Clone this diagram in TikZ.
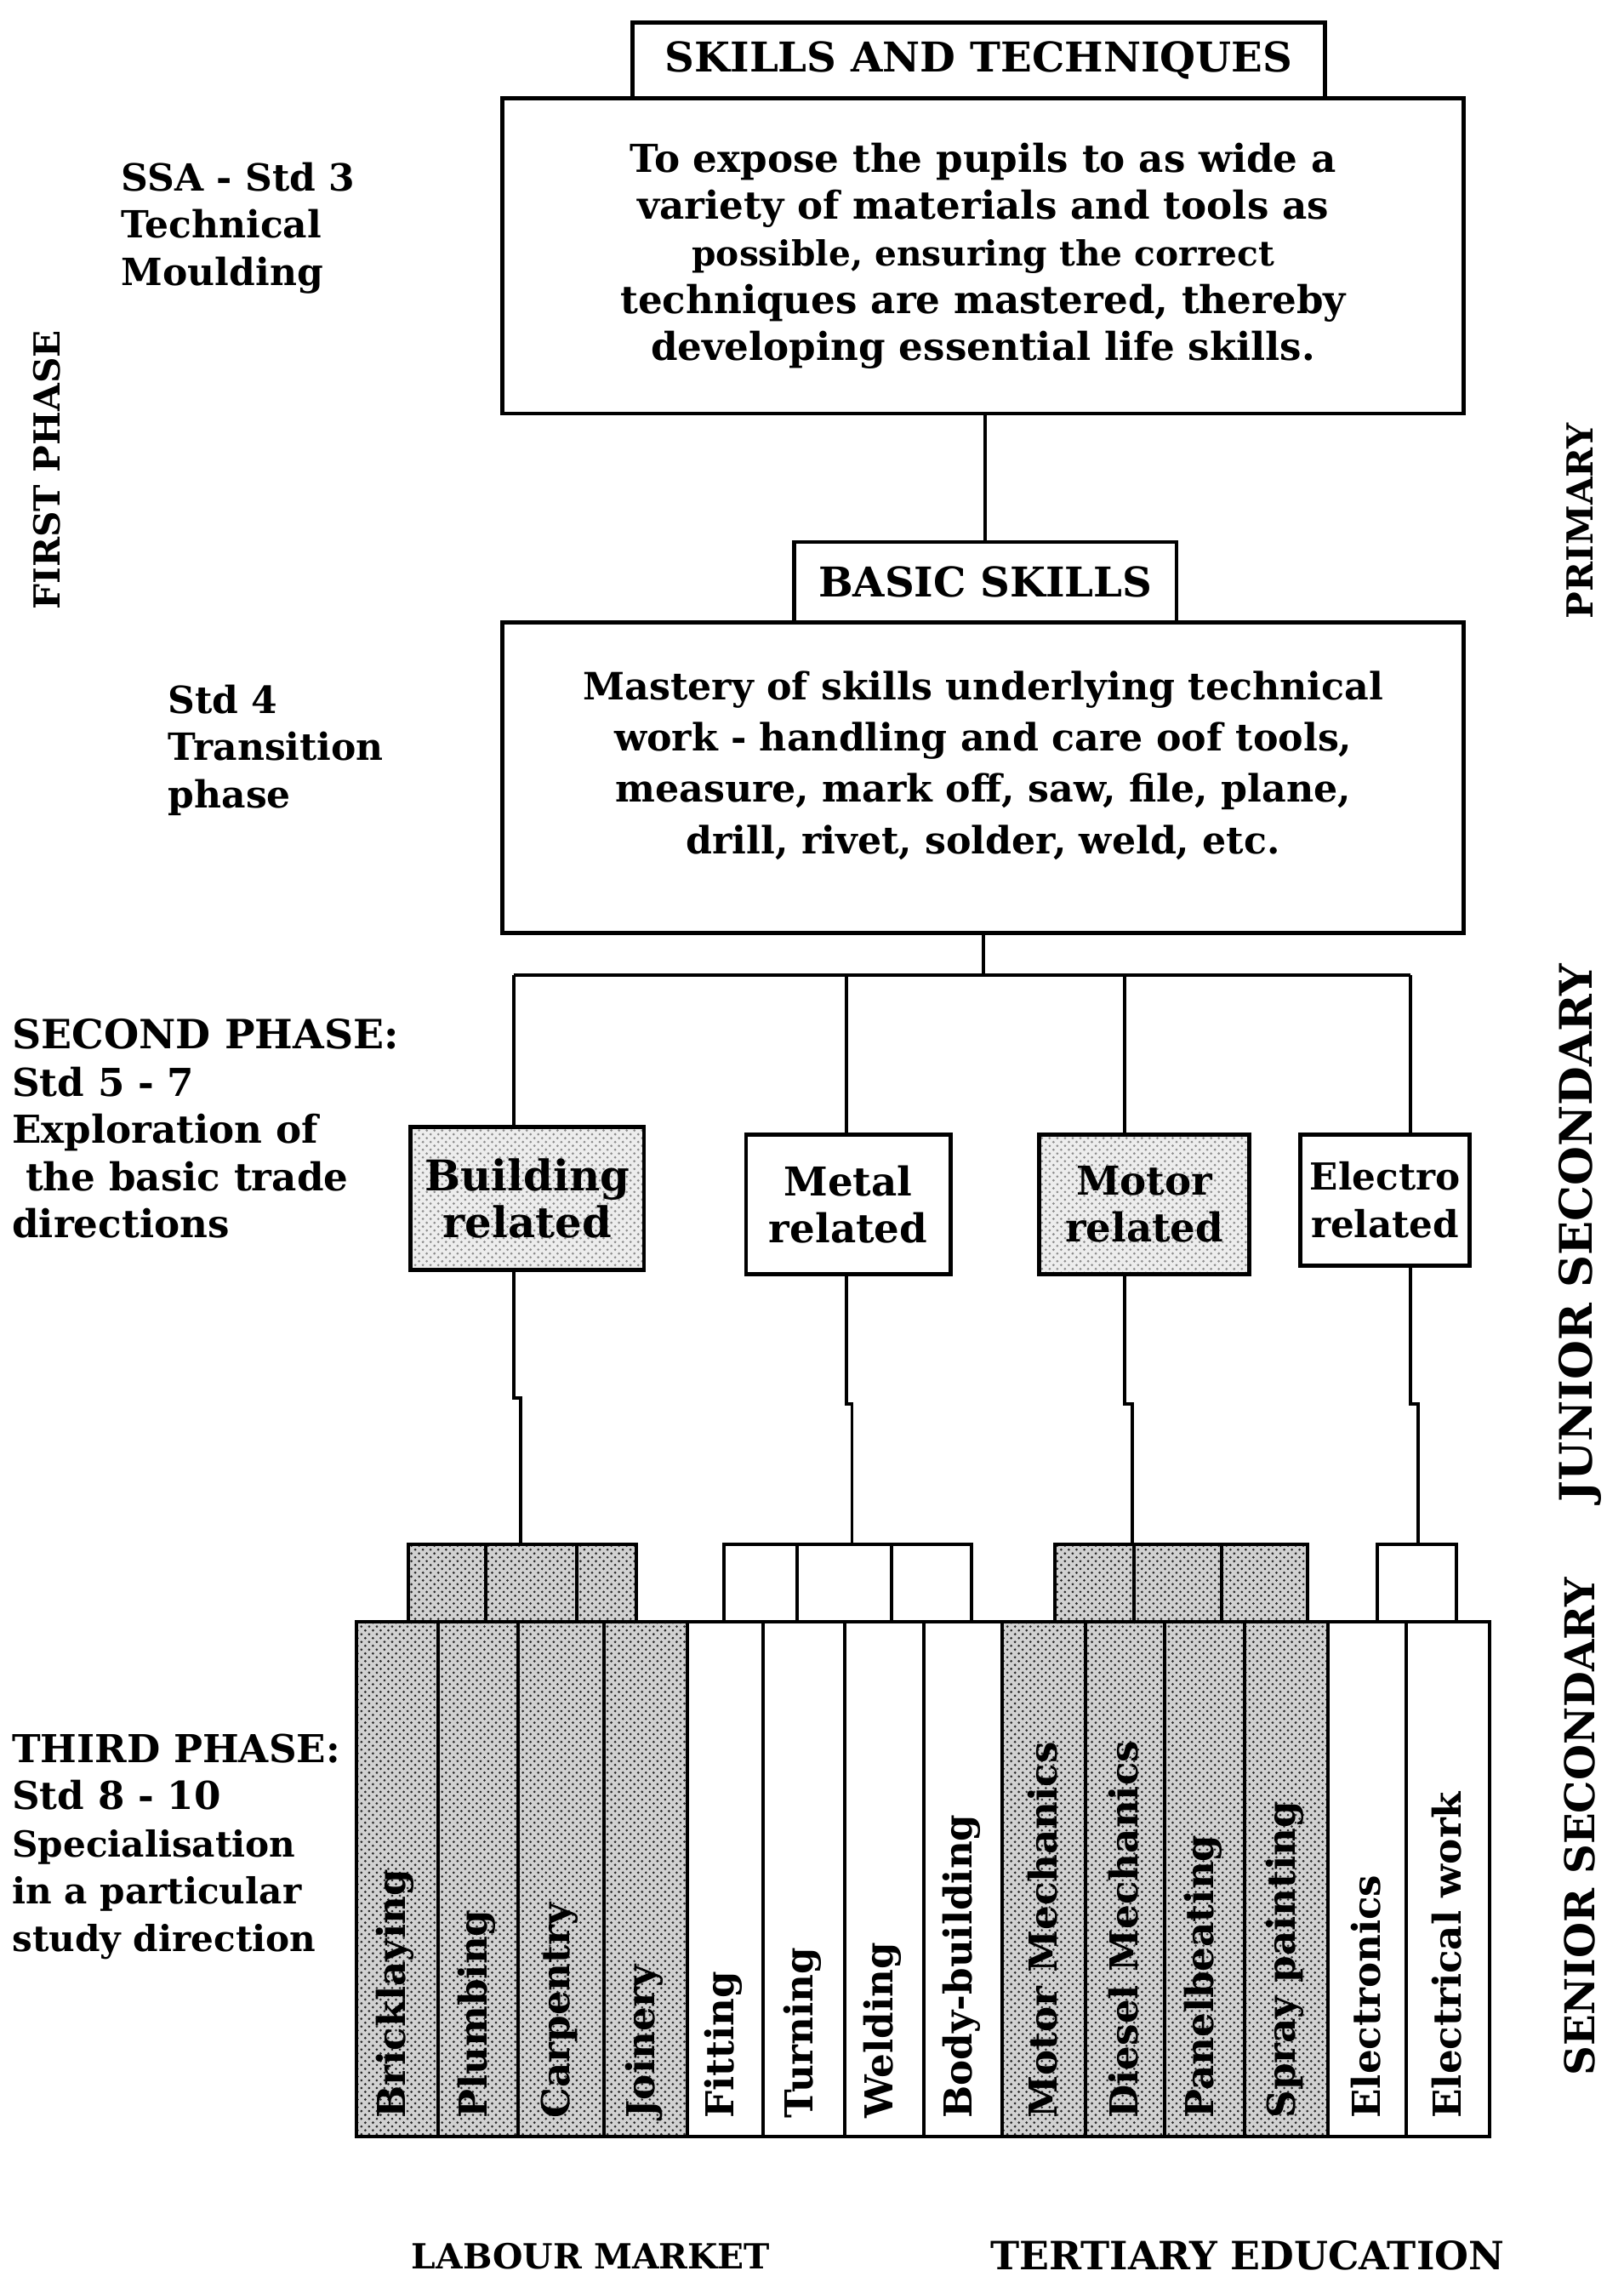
\documentclass[tikz,border=0pt]{standalone}
\usepackage{fontspec}
\setmainfont{DejaVu Serif}
\usetikzlibrary{patterns}
\newcommand\fs[1]{\bfseries\fontsize{#1}{18.4}\selectfont}
\tikzset{
    box/.style={draw, line width=1.6pt, inner sep=0pt, align=center, font=\fs{15}},
    link/.style={line width=1.3pt},
    cell/.style={draw, line width=1.3pt, inner sep=0pt, pattern=crosshatch dots},
    light/.style={preaction={fill=black!7}, pattern=crosshatch dots, pattern color=black!45},
    sidetext/.style={inner sep=0pt, align=left, font=\fs{15}},
    phase/.style={inner sep=0pt, rotate=90, font=\fs{14}},
    collabel/.style={inner sep=0pt, rotate=90, anchor=west, font=\fs{15}}
}
\begin{document}
\begin{tikzpicture}[x=0.02cm, y=-0.02cm]
    \def\px{0.02cm}
    \useasboundingbox (0,0) rectangle (1113,1568);
    % primary part
    \node[box, font=\fs{16}, anchor=north west, minimum width=475*\px, minimum height=52*\px] (skills) at (432,14) {SKILLS AND TECHNIQUES};
    \node[box, anchor=north west, minimum width=659*\px, minimum height=216*\px] (aim) at (343,66)
        {To expose the pupils to as wide a\\variety of materials and tools as\\{\fs{13.5}possible, ensuring the correct}\\techniques are mastered, thereby\\developing essential life skills.};
    \node[box, font=\fs{16}, anchor=north west, minimum width=262*\px, minimum height=55*\px] (basic) at (543,370) {BASIC SKILLS};
    \node[box, font=\bfseries\fontsize{14.7}{20}\selectfont, text depth=12pt, anchor=north west, minimum width=659*\px, minimum height=213*\px] (mastery) at (343,425)
        {Mastery of skills underlying technical\\work - handling  and care oof tools,\\measure, mark off, saw, file, plane,\\drill, rivet, solder, weld,  etc.};
    \draw[link] (aim.south -| basic.north) -- (basic.north);
    % junior secondary part
    \coordinate (bar) at (mastery.south |- 0,668);
    \coordinate (t1) at (352,668);
    \coordinate (t2) at (580,668);
    \coordinate (t3) at (771,668);
    \coordinate (t4) at (967,668);
    \draw[link] (mastery.south) -- (bar);
    \draw[link] (t1) -- (t4);
    \node[box, light, font=\fs{16.5}, anchor=north west, minimum width=160*\px, minimum height=98*\px] (building) at (280,771) {Building\\related};
    \node[box, font=\fs{15.5}, anchor=north west, minimum width=140*\px, minimum height=96*\px] (metal) at (510,776) {Metal\\related};
    \node[box, light, font=\fs{15.5}, anchor=north west, minimum width=144*\px, minimum height=96*\px] (motor) at (711,776) {Motor\\related};
    \node[box, font=\fs{14.5}, anchor=north west, minimum width=116*\px, minimum height=90*\px] (electro) at (890,776) {Electro\\related};
    \draw[link] (t1) -- (t1 |- building.north);
    \draw[link] (t2) -- (t2 |- metal.north);
    \draw[link] (t3) -- (t3 |- motor.north);
    \draw[link] (t4) -- (t4 |- electro.north);
    % senior secondary part
    \foreach \l/\r/\n/\h in {279/332/b1/1, 332/394/b2/1, 394/435/b3/1,
                             495/545/m1/0, 545/610/m2/0, 610/665/m3/0,
                             722/776/v1/1, 776/836/v2/1, 836/895/v3/1,
                             943/997/e1/0}
        \node[cell, preaction={fill=black!\fpeval{18*\h}}, pattern color=black!\fpeval{85*\h}, anchor=north west, minimum width=(\r-\l)*\px, minimum height=53*\px] (\n) at (\l,1057) {};
    \coordinate (d1) at (357,958);
    \coordinate (d2) at (584,962);
    \coordinate (d3) at (776,962);
    \coordinate (d4) at (972,962);
    \draw[link] (t1 |- building.south) -- (t1 |- d1) -- (d1) -- (d1 |- b2.north);
    \draw[link] (t2 |- metal.south) -- (t2 |- d2) -- (d2) -- (d2 |- m2.north);
    \draw[link] (t3 |- motor.south) -- (t3 |- d3) -- (d3) -- (d3 |- v2.north);
    \draw[link] (t4 |- electro.south) -- (t4 |- d4) -- (d4) -- (d4 |- e1.north);
    \foreach \l/\r/\n/\h/\t in {243/299/c1/1/Bricklaying, 299/354/c2/1/Plumbing,
                                354/413/c3/1/Carpentry, 413/470/c4/1/Joinery,
                                470/522/c5/0/Fitting, 522/578/c6/0/Turning,
                                578/632/c7/0/Welding, 632/686/c8/0/Body-building,
                                686/743/c9/1/Motor Mechanics, 743/797/c10/1/Diesel Mechanics,
                                797/852/c11/1/Panelbeating, 852/909/c12/1/Spray painting,
                                909/963/c13/0/Electronics, 963/1020/c14/0/Electrical work}
    {
        \node[cell, preaction={fill=black!\fpeval{18*\h}}, pattern color=black!\fpeval{85*\h}, anchor=north west, minimum width=(\r-\l)*\px, minimum height=353*\px] (\n) at (\l,1110) {};
        \node[collabel] at ({(\l+\r)/2},1452) {\t};
    }
    % phases on the left
    \node[sidetext, font=\fs{14.6}, anchor=north west] (ssa) at (83,111) {SSA - Std 3\\Technical\\Moulding};
    \node[phase] (first) at (32,322) {FIRST PHASE};
    \node[sidetext, font=\fs{14.6}, anchor=north west] (std4) at (115,469) {Std 4\\Transition\\phase};
    \node[sidetext, anchor=north west] (second) at (8,698)
        {{\fs{15.7}SECOND PHASE:}\\Std 5 - 7\\Exploration of\\\ the basic trade\\directions};
    \node[sidetext, anchor=north west] (third) at (8,1188)
        {{\fs{15}THIRD PHASE:}\\Std 8 - 10\\{\fs{14}Specialisation}\\{\fs{14}in a particular}\\{\fs{14}study direction}};
    % levels on the right
    \node[phase] (primary) at (1083,357) {PRIMARY};
    \node[phase, font=\fs{17.5}] (junior) at (1083,845) {JUNIOR SECONDARY};
    \node[phase, font=\fs{16}] (senior) at (1083,1252) {SENIOR SECONDARY};
    % outcomes
    \node[sidetext, font=\fs{13.5}] (labour) at (405,1546) {LABOUR MARKET};
    \node[sidetext, font=\fs{15.2}] (tertiary) at (855,1546) {TERTIARY EDUCATION};
\end{tikzpicture}
\end{document}
